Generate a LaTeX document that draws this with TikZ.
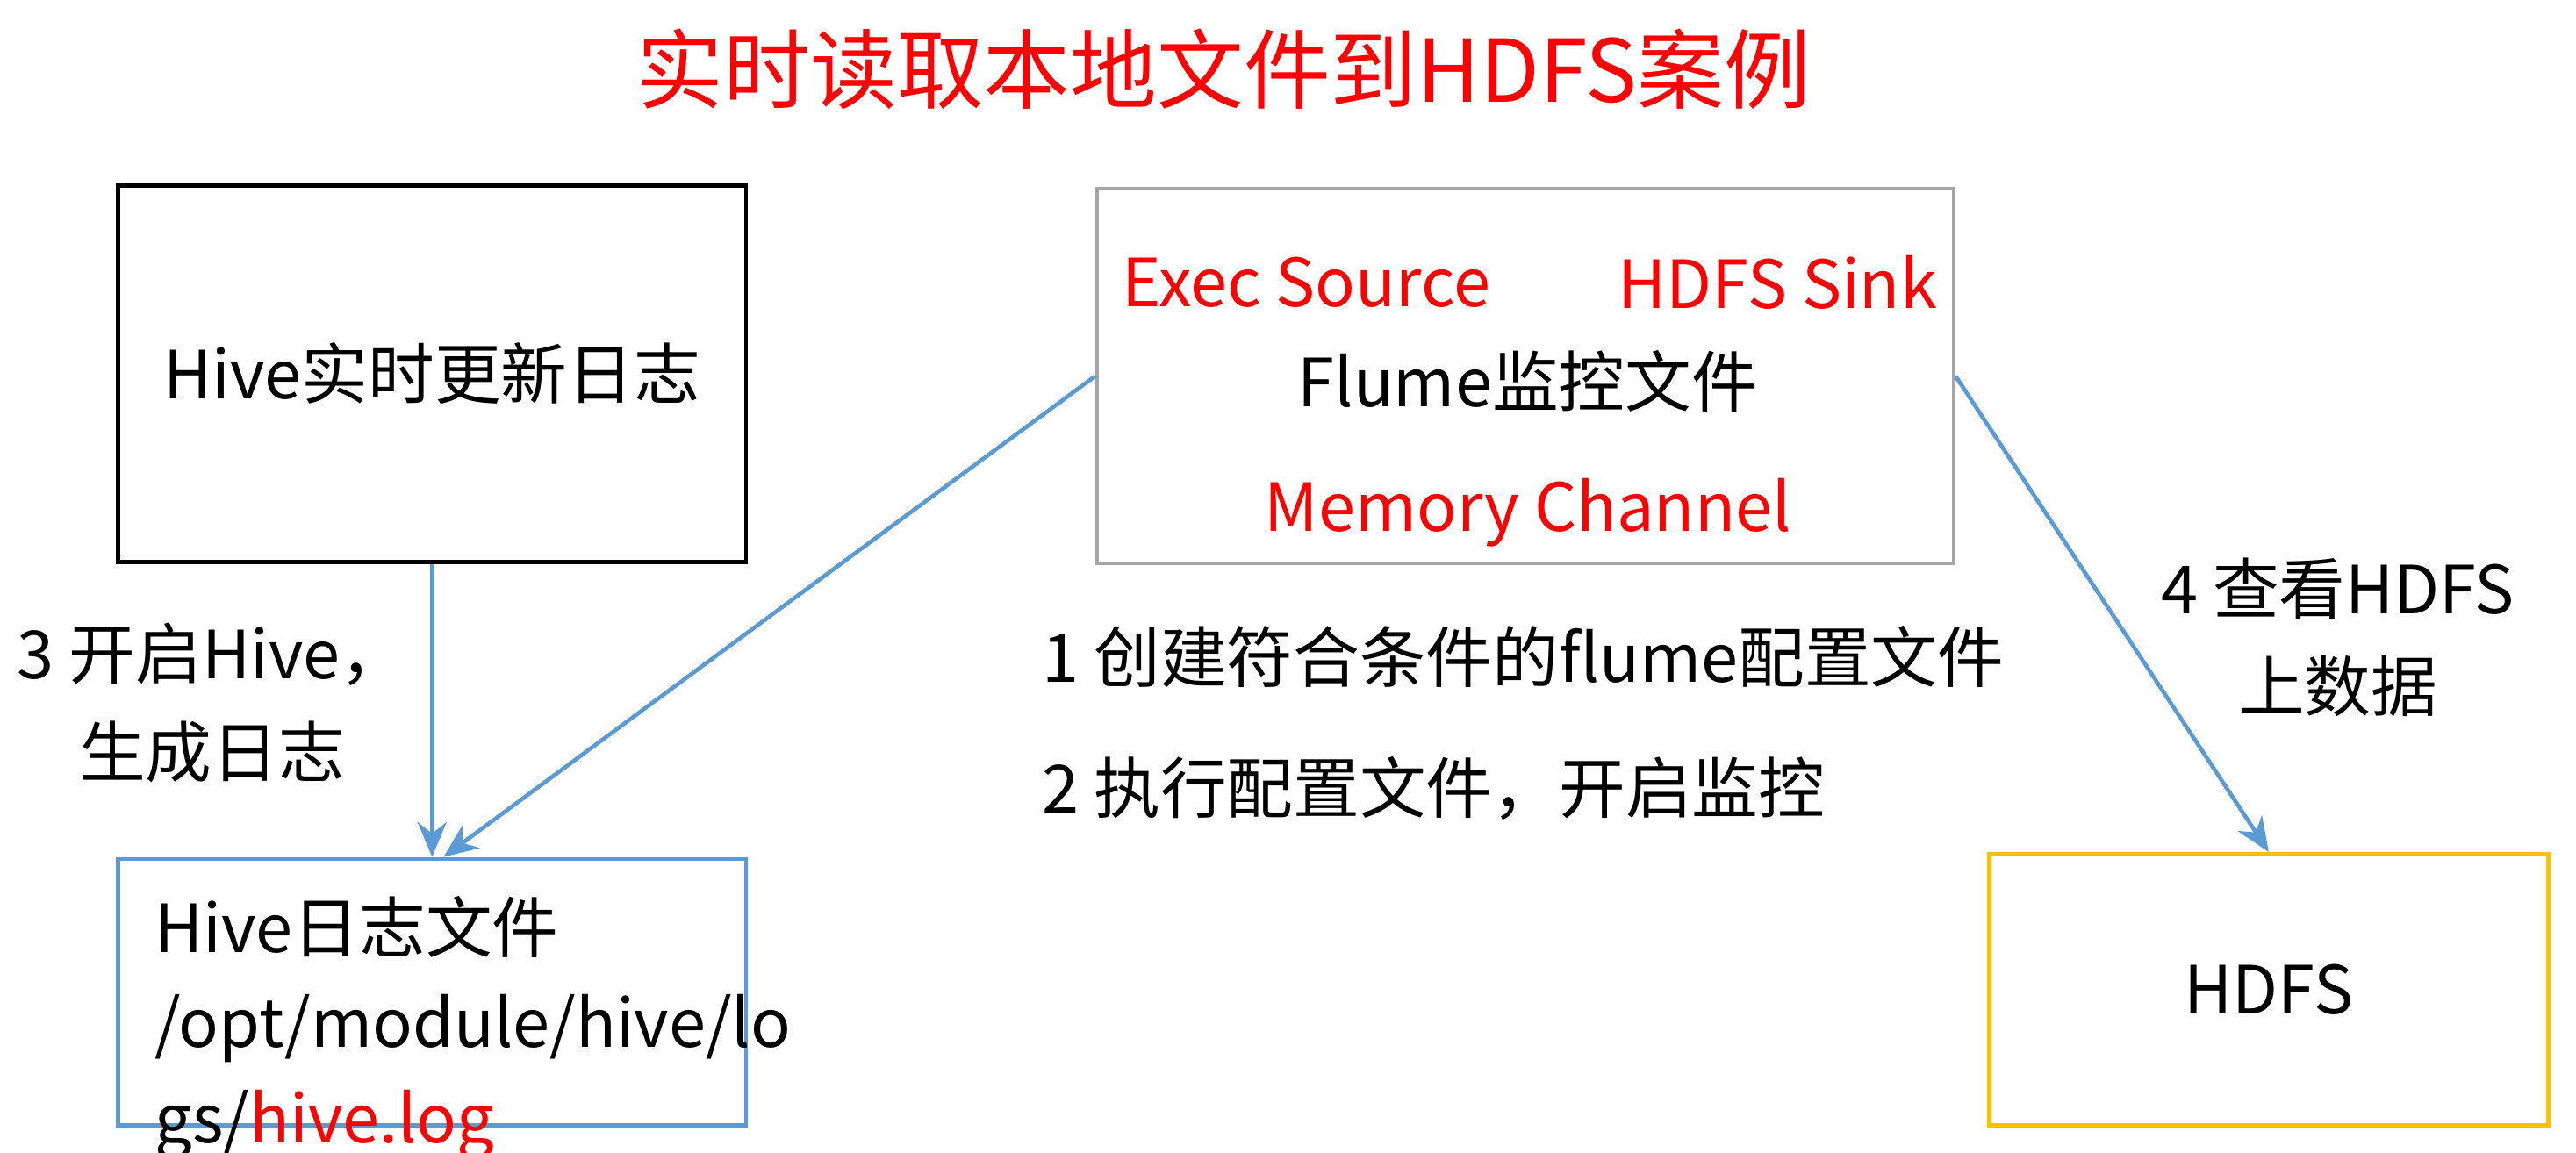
\documentclass[tikz,border=0pt]{standalone}
\usepackage{fontspec}
\setmainfont{Noto Sans CJK SC}
\usetikzlibrary{arrows.meta,positioning}
\definecolor{flowblue}{RGB}{91,155,213}
\definecolor{hdfsgold}{RGB}{255,192,0}
\definecolor{boxgray}{RGB}{165,165,165}
\tikzset{
  box/.style={rectangle, draw, line width=0.7pt, font=\fontsize{11.5}{14}\selectfont},
  lbl/.style={font=\fontsize{11.5}{17}\selectfont},
  red/.style={text=red},
  flow/.style={draw=flowblue, line width=0.7pt, -{Stealth[length=6pt,width=5pt]}}
}
\begin{document}
\begin{tikzpicture}[x=0.01cm,y=-0.01cm]
\useasboundingbox (0,0) rectangle (1568,701.5);
\node[lbl, red, font=\fontsize{15}{18}\selectfont] (title) at (745,42) {实时读取本地文件到HDFS案例};
% boxes
\node[box, minimum width=3.82cm, minimum height=2.29cm] (hive) at (263,227.5) {Hive实时更新日志};
\node[box, draw=boxgray, minimum width=5.21cm, minimum height=2.28cm] (flume) at (928.5,229) {};
\node[lbl, red] (exec) at (795,172) {Exec Source};
\node[lbl, red] (sink) at (1082,172) {HDFS Sink};
\node[lbl] (fname) at (930,232) {Flume监控文件};
\node[lbl, red] (chan) at (930,312) {Memory Channel};
\node[box, draw=flowblue, minimum width=3.82cm, minimum height=1.62cm] (log) at (263,604) {};
\node[lbl, align=left, anchor=north west, font=\fontsize{11.5}{16.5}\selectfont] (logtext) at (82,533)
  {Hive日志文件\\/opt/module/hive/lo\\gs/\textcolor{red}{hive.log}};
\node[box, draw=hdfsgold, minimum width=3.40cm, minimum height=1.65cm] (hdfs) at (1381,602.5) {HDFS};
% step labels
\node[lbl, align=center] (step3) at (129,428) {3 开启Hive，\\生成日志};
\node[lbl, anchor=west] (step1) at (622,400) {1 创建符合条件的flume配置文件};
\node[lbl, anchor=west] (step2) at (622,480) {2 执行配置文件，开启监控};
\node[lbl, align=center] (step4) at (1423,388) {4 查看HDFS\\上数据};
% connectors
\draw[flow] (hive) -- (log.north);
\draw[flow] (flume.west) -- ([xshift=0.07cm]log.north);
\draw[flow] (flume.east) -- (hdfs.north);
\end{tikzpicture}
\end{document}
